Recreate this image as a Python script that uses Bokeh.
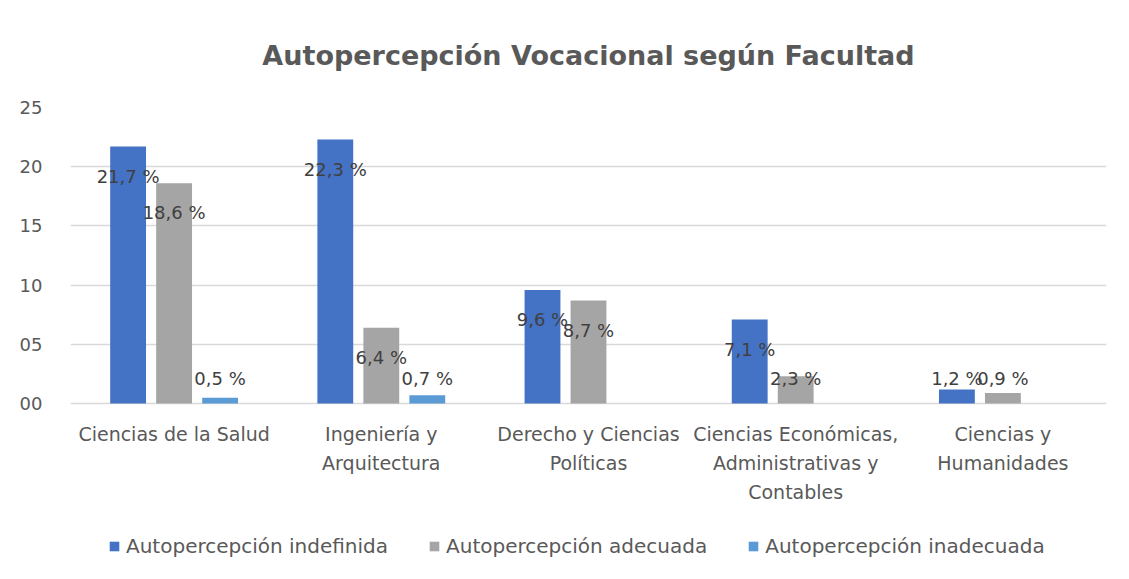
from bokeh.plotting import figure
from bokeh.models import ColumnDataSource, Legend, LegendItem, CustomJSTickFormatter, FactorRange, FixedTicker, Range1d
from bokeh.transform import dodge
from bokeh.core.properties import value
from bokeh.embed import file_html
from bokeh.resources import INLINE

categories = [
    "Ciencias de la Salud",
    "Ingeniería y Arquitectura",
    "Derecho y Ciencias Políticas",
    "Ciencias Económicas, Administrativas y Contables",
    "Ciencias y Humanidades",
]
wrapped_labels = [
    ["Ciencias de la Salud"],
    ["Ingeniería y", "Arquitectura"],
    ["Derecho y Ciencias", "Políticas"],
    ["Ciencias Económicas,", "Administrativas y", "Contables"],
    ["Ciencias y", "Humanidades"],
]
series_names = ["Autopercepción indefinida", "Autopercepción adecuada", "Autopercepción inadecuada"]
indefinida = [21.7, 22.3, 9.6, 7.1, 1.2]
adecuada = [18.6, 6.4, 8.7, 2.3, 0.9]
inadecuada = [0.5, 0.7, 0.0, 0.0, 0.0]
y_ticks = [0, 5, 10, 15, 20, 25]

colors = ["#4472C4", "#A5A5A5", "#5B9BD5"]
offsets = [-0.222, 0.0, 0.222]
FONT = "DejaVu Sans"

series = [indefinida, adecuada, inadecuada]

# the frame extends below zero so that category labels and legend live inside it
Y_MAX = 25
Y_MIN = -13.5

p = figure(
    x_range=FactorRange(*categories),
    y_range=Range1d(Y_MIN, Y_MAX),
    width=1113,
    height=563,
    output_backend="svg",
    toolbar_location=None,
    title="Autopercepción Vocacional según Facultad",
    min_border_left=70,
    min_border_right=7,
    min_border_top=107,
    min_border_bottom=0,
)
p.title.align = "center"
p.title.text_font = FONT
p.title.text_font_size = "27px"
p.title.text_font_style = "bold"
p.title.text_color = "#595959"
p.title.standoff = 74

data = {"cat": categories}
for name, vals in zip(series_names, series):
    data[name] = vals
src = ColumnDataSource(data)

items = []
for name, vals, col, off in zip(series_names, series, colors, offsets):
    r = p.vbar(x=dodge("cat", off, range=p.x_range), top=name, width=0.173,
               source=src, fill_color=col, line_color=None)
    items.append(LegendItem(label=name, renderers=[r]))
    lc = [c for c, v in zip(categories, vals) if v > 0]
    lv = [v for v in vals if v > 0]
    ly = [max(v - 2.5, 2.1) for v in lv]
    lt = [("%.1f" % v).replace(".", ",") + " %" for v in lv]
    lsrc = ColumnDataSource(dict(cat=lc, y=ly, t=lt))
    p.text(x=dodge("cat", off, range=p.x_range), y="y", text="t", source=lsrc,
           text_align="center", text_baseline="middle", text_color="#404040",
           text_font=value(FONT), text_font_size="18px")

# category labels below the zero line (one entry per line)
cl_cat, cl_y, cl_t = [], [], []
for cat, lines in zip(categories, wrapped_labels):
    for i, line in enumerate(lines):
        cl_cat.append(cat)
        cl_y.append(-2.6 - 2.45 * i)
        cl_t.append(line)
cat_src = ColumnDataSource(dict(cat=cl_cat, y=cl_y, t=cl_t))
p.text(x="cat", y="y", text="t", source=cat_src, text_align="center",
       text_baseline="middle", text_font=value(FONT), text_font_size="19px",
       text_color="#595959")

legend = Legend(items=items, orientation="horizontal", location=(38, 5),
                border_line_color=None, background_fill_alpha=0,
                label_text_font=FONT, label_text_font_size="20px", label_text_color="#595959",
                glyph_width=12, glyph_height=12, label_standoff=6, spacing=40,
                margin=0, padding=0)
p.add_layout(legend, "center")

p.xaxis.visible = False
p.yaxis.ticker = FixedTicker(ticks=y_ticks)
p.yaxis.formatter = CustomJSTickFormatter(code="return (tick < 10 ? '0' : '') + tick.toFixed(0);")
p.yaxis.axis_line_color = None
p.yaxis.major_tick_line_color = None
p.yaxis.minor_tick_line_color = None
p.yaxis.major_label_standoff = 22
p.yaxis.major_label_text_font = FONT
p.yaxis.major_label_text_font_size = "18px"
p.yaxis.major_label_text_color = "#595959"

p.xgrid.grid_line_color = None
p.ygrid.grid_line_color = "#d9d9d9"
p.ygrid.grid_line_width = 1.5
p.outline_line_color = None

open("out.html", "w").write(file_html(p, INLINE))
